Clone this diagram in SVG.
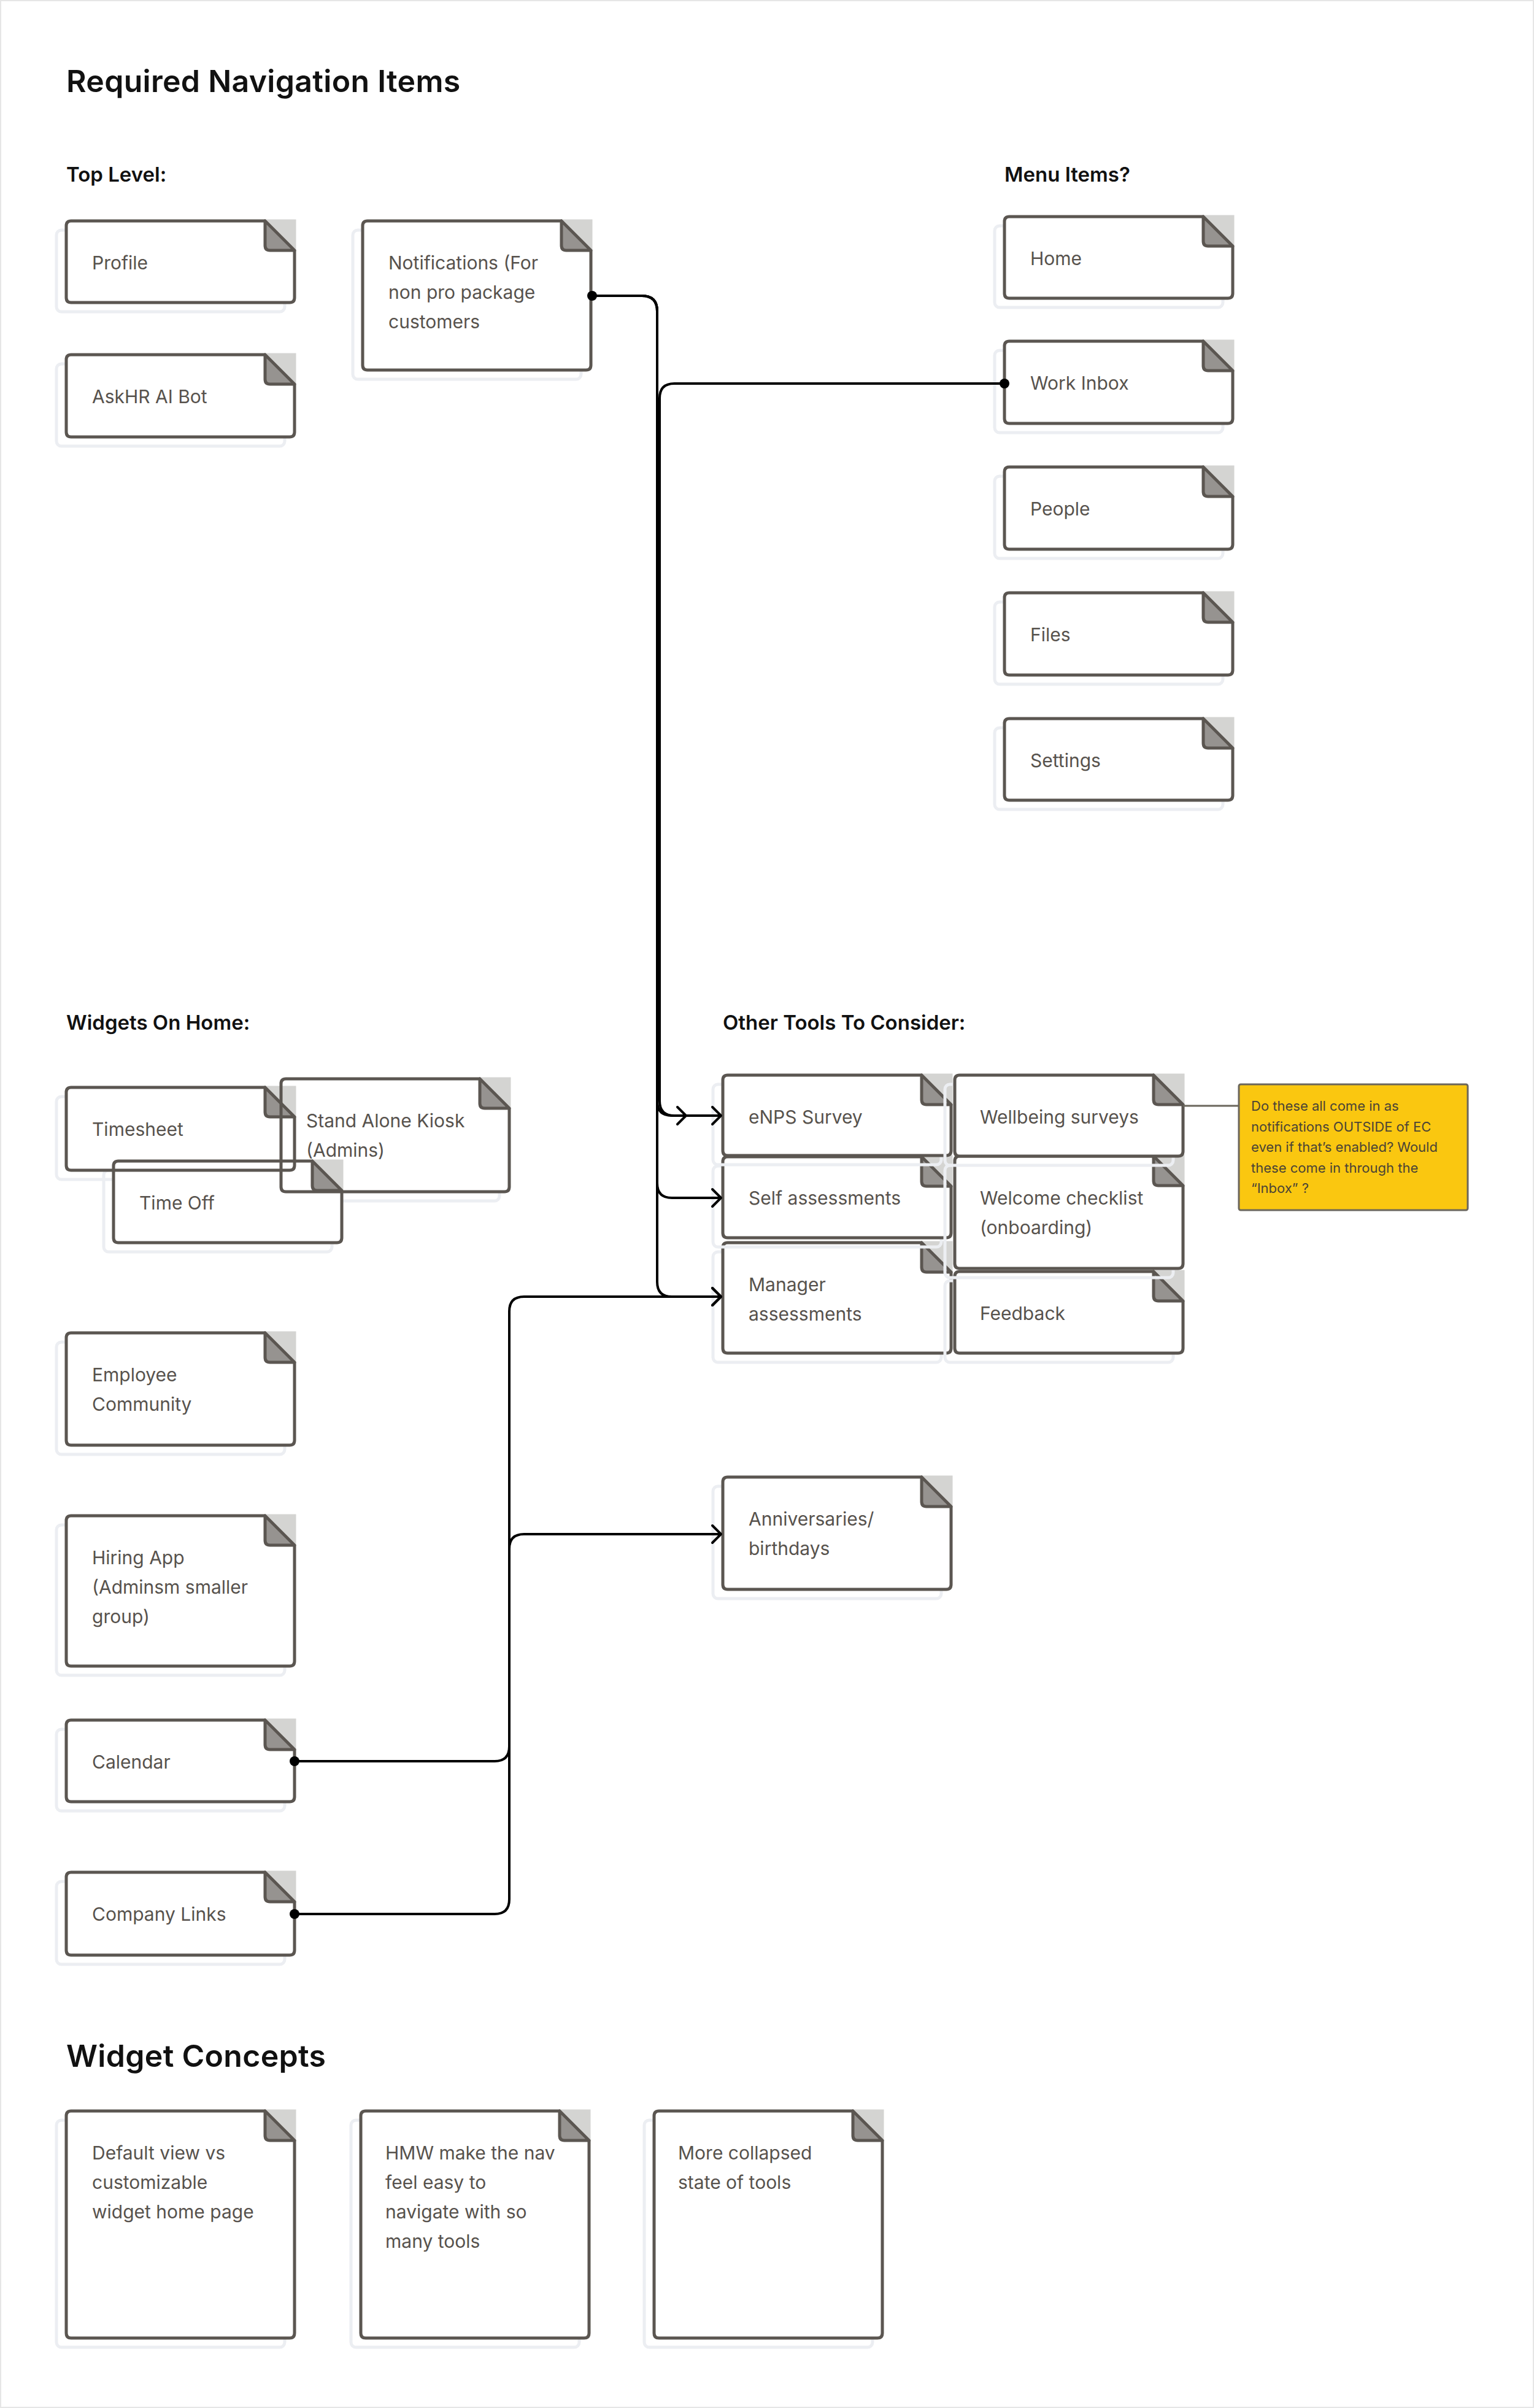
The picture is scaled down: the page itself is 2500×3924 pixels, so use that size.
<svg xmlns="http://www.w3.org/2000/svg" xmlns:xlink="http://www.w3.org/1999/xlink" width="2500" height="3924" viewBox="0 0 2500 3924">
<style>
.h1{font-family:Inter,"Liberation Sans",sans-serif;font-weight:600;font-size:50px;letter-spacing:0.3px;fill:#111111}
.h2{font-family:Inter,"Liberation Sans",sans-serif;font-weight:600;font-size:33px;fill:#111111}
.lbl{font-family:Inter,"Liberation Sans",sans-serif;font-weight:400;font-size:30px;fill:#57524d}
.nt{font-family:Inter,"Liberation Sans",sans-serif;font-weight:400;font-size:22px;fill:#4a4336}
.body{fill:#ffffff;stroke:#5b5651;stroke-width:5;stroke-linejoin:round}
.bodyo{fill:none;stroke:#5b5651;stroke-width:5;stroke-linejoin:round}
.shd{fill:none;stroke:#eceef2;stroke-width:5}
.con{fill:none;stroke:#000000;stroke-width:4;stroke-linejoin:round}
.arr{marker-end:url(#arrow)}
.dot{fill:#000000}
</style>
<defs>
<g id="fold"><rect x="0" y="-2.5" width="50.5" height="50.5" fill="#d4d4d2"/><path d="M0,0 V40 Q0,48 8,48 H48 Z" fill="#969390" stroke="#5b5651" stroke-width="5" stroke-linejoin="round"/></g>
<marker id="arrow" viewBox="-18 -18 22 36" markerWidth="22" markerHeight="36" refX="0" refY="0" orient="auto" markerUnits="userSpaceOnUse"><path d="M-14,-14 L0,0 L-14,14" fill="none" stroke="#000000" stroke-width="4" stroke-linecap="round" stroke-linejoin="round"/></marker>
</defs>
<rect x="0" y="0" width="2500" height="3924" fill="#ffffff"/>
<rect x="1" y="1" width="2498" height="3922" fill="none" stroke="#e6e6e6" stroke-width="2"/>

<g id="headings">
<text class="h1" x="108" y="150">Required Navigation Items</text>
<text class="h2" x="108" y="296">Top Level:</text>
<text class="h2" x="1637" y="296">Menu Items?</text>
<text class="h2" x="108" y="1678">Widgets On Home:</text>
<text class="h2" x="1178" y="1678">Other Tools To Consider:</text>
<text class="h1" x="108" y="3368">Widget Concepts</text>
</g>

<g id="profile">
<rect class="shd" x="92" y="375" width="372" height="133" rx="8"/>
<path class="body" d="M116,360 H432 L480,408 V485 Q480,493 472,493 H116 Q108,493 108,485 V368 Q108,360 116,360 Z"/>
<use href="#fold" x="432" y="360"/>
<text class="lbl" x="150" y="439">Profile</text>
</g>
<g id="askhr-ai-bot">
<rect class="shd" x="92" y="593" width="372" height="134" rx="8"/>
<path class="body" d="M116,578 H432 L480,626 V704 Q480,712 472,712 H116 Q108,712 108,704 V586 Q108,578 116,578 Z"/>
<use href="#fold" x="432" y="578"/>
<text class="lbl" x="150" y="657">AskHR AI Bot</text>
</g>
<g id="notifications">
<rect class="shd" x="575" y="375" width="372" height="243" rx="8"/>
<path class="body" d="M599,360 H915 L963,408 V595 Q963,603 955,603 H599 Q591,603 591,595 V368 Q591,360 599,360 Z"/>
<use href="#fold" x="915" y="360"/>
<text class="lbl" x="633" y="439">Notifications (For</text>
<text class="lbl" x="633" y="487">non pro package</text>
<text class="lbl" x="633" y="535">customers</text>
</g>

<g id="home">
<rect class="shd" x="1621" y="368" width="372" height="133" rx="8"/>
<path class="body" d="M1645,353 H1961 L2009,401 V478 Q2009,486 2001,486 H1645 Q1637,486 1637,478 V361 Q1637,353 1645,353 Z"/>
<use href="#fold" x="1961" y="353"/>
<text class="lbl" x="1679" y="432">Home</text>
</g>
<g id="work-inbox">
<rect class="shd" x="1621" y="571" width="372" height="134" rx="8"/>
<path class="body" d="M1645,556 H1961 L2009,604 V682 Q2009,690 2001,690 H1645 Q1637,690 1637,682 V564 Q1637,556 1645,556 Z"/>
<use href="#fold" x="1961" y="556"/>
<text class="lbl" x="1679" y="635">Work Inbox</text>
</g>
<g id="people">
<rect class="shd" x="1621" y="776" width="372" height="134" rx="8"/>
<path class="body" d="M1645,761 H1961 L2009,809 V887 Q2009,895 2001,895 H1645 Q1637,895 1637,887 V769 Q1637,761 1645,761 Z"/>
<use href="#fold" x="1961" y="761"/>
<text class="lbl" x="1679" y="840">People</text>
</g>
<g id="files">
<rect class="shd" x="1621" y="981" width="372" height="134" rx="8"/>
<path class="body" d="M1645,966 H1961 L2009,1014 V1092 Q2009,1100 2001,1100 H1645 Q1637,1100 1637,1092 V974 Q1637,966 1645,966 Z"/>
<use href="#fold" x="1961" y="966"/>
<text class="lbl" x="1679" y="1045">Files</text>
</g>
<g id="settings">
<rect class="shd" x="1621" y="1186" width="372" height="133" rx="8"/>
<path class="body" d="M1645,1171 H1961 L2009,1219 V1296 Q2009,1304 2001,1304 H1645 Q1637,1304 1637,1296 V1179 Q1637,1171 1645,1171 Z"/>
<use href="#fold" x="1961" y="1171"/>
<text class="lbl" x="1679" y="1250">Settings</text>
</g>

<g id="widget-underlay">
<rect class="shd" x="92" y="1787" width="372" height="135" rx="8"/>
<rect class="shd" x="442" y="1773" width="372" height="184" rx="8"/>
<rect class="shd" x="169" y="1907" width="372" height="133" rx="8"/>
<rect x="108" y="1772" width="372" height="135" rx="8" fill="#ffffff"/>
<rect x="458" y="1758" width="372" height="184" rx="8" fill="#ffffff"/>
<rect x="185" y="1892" width="372" height="133" rx="8" fill="#ffffff"/>
</g>
<g id="timesheet">
<path class="bodyo" d="M116,1772 H432 L480,1820 V1899 Q480,1907 472,1907 H116 Q108,1907 108,1899 V1780 Q108,1772 116,1772 Z"/>
<use href="#fold" x="432" y="1772"/>
<text class="lbl" x="150" y="1851">Timesheet</text>
</g>
<g id="stand-alone-kiosk">
<path class="bodyo" d="M466,1758 H782 L830,1806 V1934 Q830,1942 822,1942 H466 Q458,1942 458,1934 V1766 Q458,1758 466,1758 Z"/>
<use href="#fold" x="782" y="1758"/>
<text class="lbl" x="499" y="1837">Stand Alone Kiosk</text>
<text class="lbl" x="499" y="1885">(Admins)</text>
</g>
<g id="time-off">
<path class="bodyo" d="M193,1892 H509 L557,1940 V2017 Q557,2025 549,2025 H193 Q185,2025 185,2017 V1900 Q185,1892 193,1892 Z"/>
<use href="#fold" x="509" y="1892"/>
<text class="lbl" x="227" y="1971">Time Off</text>
</g>

<g id="employee-community">
<rect class="shd" x="92" y="2187" width="372" height="183" rx="8"/>
<path class="body" d="M116,2172 H432 L480,2220 V2347 Q480,2355 472,2355 H116 Q108,2355 108,2347 V2180 Q108,2172 116,2172 Z"/>
<use href="#fold" x="432" y="2172"/>
<text class="lbl" x="150" y="2251">Employee</text>
<text class="lbl" x="150" y="2299">Community</text>
</g>
<g id="hiring-app">
<rect class="shd" x="92" y="2485" width="372" height="245" rx="8"/>
<path class="body" d="M116,2470 H432 L480,2518 V2707 Q480,2715 472,2715 H116 Q108,2715 108,2707 V2478 Q108,2470 116,2470 Z"/>
<use href="#fold" x="432" y="2470"/>
<text class="lbl" x="150" y="2549">Hiring App</text>
<text class="lbl" x="150" y="2597">(Adminsm smaller</text>
<text class="lbl" x="150" y="2645">group)</text>
</g>
<g id="calendar">
<rect class="shd" x="92" y="2818" width="372" height="133" rx="8"/>
<path class="body" d="M116,2803 H432 L480,2851 V2928 Q480,2936 472,2936 H116 Q108,2936 108,2928 V2811 Q108,2803 116,2803 Z"/>
<use href="#fold" x="432" y="2803"/>
<text class="lbl" x="150" y="2882">Calendar</text>
</g>
<g id="company-links">
<rect class="shd" x="92" y="3066" width="372" height="135" rx="8"/>
<path class="body" d="M116,3051 H432 L480,3099 V3178 Q480,3186 472,3186 H116 Q108,3186 108,3178 V3059 Q108,3051 116,3051 Z"/>
<use href="#fold" x="432" y="3051"/>
<text class="lbl" x="150" y="3130">Company Links</text>
</g>

<g id="manager-assessments">
<rect class="shd" x="1162" y="2040" width="372" height="180" rx="8"/>
<path class="body" d="M1186,2025 H1502 L1550,2073 V2197 Q1550,2205 1542,2205 H1186 Q1178,2205 1178,2197 V2033 Q1178,2025 1186,2025 Z"/>
<use href="#fold" x="1502" y="2025"/>
<text class="lbl" x="1220" y="2104">Manager</text>
<text class="lbl" x="1220" y="2152">assessments</text>
</g>
<g id="self-assessments">
<rect class="shd" x="1162" y="1900" width="372" height="132" rx="8"/>
<path class="body" d="M1186,1885 H1502 L1550,1933 V2009 Q1550,2017 1542,2017 H1186 Q1178,2017 1178,2009 V1893 Q1178,1885 1186,1885 Z"/>
<use href="#fold" x="1502" y="1885"/>
<text class="lbl" x="1220" y="1963">Self assessments</text>
</g>
<g id="enps-survey">
<rect class="shd" x="1162" y="1767" width="372" height="131" rx="8"/>
<path class="body" d="M1186,1752 H1502 L1550,1800 V1875 Q1550,1883 1542,1883 H1186 Q1178,1883 1178,1875 V1760 Q1178,1752 1186,1752 Z"/>
<use href="#fold" x="1502" y="1752"/>
<text class="lbl" x="1220" y="1831">eNPS Survey</text>
</g>
<g id="feedback">
<rect class="shd" x="1540" y="2087" width="372" height="133" rx="8"/>
<path class="body" d="M1564,2072 H1880 L1928,2120 V2197 Q1928,2205 1920,2205 H1564 Q1556,2205 1556,2197 V2080 Q1556,2072 1564,2072 Z"/>
<use href="#fold" x="1880" y="2072"/>
<text class="lbl" x="1597" y="2151">Feedback</text>
</g>
<g id="welcome-checklist">
<rect class="shd" x="1540" y="1899" width="372" height="183" rx="8"/>
<path class="body" d="M1564,1884 H1880 L1928,1932 V2059 Q1928,2067 1920,2067 H1564 Q1556,2067 1556,2059 V1892 Q1556,1884 1564,1884 Z"/>
<use href="#fold" x="1880" y="1884"/>
<text class="lbl" x="1597" y="1963">Welcome checklist</text>
<text class="lbl" x="1597" y="2011">(onboarding)</text>
</g>
<g id="wellbeing-surveys">
<rect class="shd" x="1540" y="1767" width="372" height="132" rx="8"/>
<path class="body" d="M1564,1752 H1880 L1928,1800 V1876 Q1928,1884 1920,1884 H1564 Q1556,1884 1556,1876 V1760 Q1556,1752 1564,1752 Z"/>
<use href="#fold" x="1880" y="1752"/>
<text class="lbl" x="1597" y="1831">Wellbeing surveys</text>
</g>
<g id="anniversaries">
<rect class="shd" x="1162" y="2422" width="372" height="183" rx="8"/>
<path class="body" d="M1186,2407 H1502 L1550,2455 V2582 Q1550,2590 1542,2590 H1186 Q1178,2590 1178,2582 V2415 Q1178,2407 1186,2407 Z"/>
<use href="#fold" x="1502" y="2407"/>
<text class="lbl" x="1220" y="2486">Anniversaries/</text>
<text class="lbl" x="1220" y="2534">birthdays</text>
</g>

<g id="note">
<rect x="2019" y="1767" width="373" height="205" rx="3" fill="#fac710" stroke="#6b665c" stroke-width="3"/>
<text class="nt" x="2039" y="1810">Do these all come in as</text>
<text class="nt" x="2039" y="1844">notifications OUTSIDE of EC</text>
<text class="nt" x="2039" y="1877">even if that’s enabled? Would</text>
<text class="nt" x="2039" y="1911">these come in through the</text>
<text class="nt" x="2039" y="1944">“Inbox” ?</text>
</g>

<g id="default-view">
<rect class="shd" x="92" y="3455" width="372" height="370" rx="8"/>
<path class="body" d="M116,3440 H432 L480,3488 V3802 Q480,3810 472,3810 H116 Q108,3810 108,3802 V3448 Q108,3440 116,3440 Z"/>
<use href="#fold" x="432" y="3440"/>
<text class="lbl" x="150" y="3519">Default view vs</text>
<text class="lbl" x="150" y="3567">customizable</text>
<text class="lbl" x="150" y="3615">widget home page</text>
</g>
<g id="hmw">
<rect class="shd" x="572" y="3455" width="372" height="370" rx="8"/>
<path class="body" d="M596,3440 H912 L960,3488 V3802 Q960,3810 952,3810 H596 Q588,3810 588,3802 V3448 Q588,3440 596,3440 Z"/>
<use href="#fold" x="912" y="3440"/>
<text class="lbl" x="628" y="3519">HMW make the nav</text>
<text class="lbl" x="628" y="3567">feel easy to</text>
<text class="lbl" x="628" y="3615">navigate with so</text>
<text class="lbl" x="628" y="3663">many tools</text>
</g>
<g id="more-collapsed">
<rect class="shd" x="1050" y="3455" width="372" height="370" rx="8"/>
<path class="body" d="M1074,3440 H1390 L1438,3488 V3802 Q1438,3810 1430,3810 H1074 Q1066,3810 1066,3802 V3448 Q1066,3440 1074,3440 Z"/>
<use href="#fold" x="1390" y="3440"/>
<text class="lbl" x="1105" y="3519">More collapsed</text>
<text class="lbl" x="1105" y="3567">state of tools</text>
</g>

<g id="connectors">
<path class="con arr" d="M965,482 H1046 Q1071,482 1071,507 V1794 Q1071,1818 1095,1818 H1118"/>
<path class="con arr" d="M965,482 H1046 Q1071,482 1071,507 V1928 Q1071,1952 1095,1952 H1175"/>
<path class="con arr" d="M965,482 H1046 Q1071,482 1071,507 V2089 Q1071,2113 1095,2113 H1175"/>
<path class="con arr" d="M1637,625 H1099 Q1075,625 1075,649 V1794 Q1075,1818 1099,1818 H1175"/>
<path class="con arr" d="M480,2870 H806 Q830,2870 830,2846 V2137 Q830,2113 854,2113 H1175"/>
<path class="con arr" d="M480,3119 H806 Q830,3119 830,3095 V2524 Q830,2500 854,2500 H1175"/>
<path d="M1928,1802 H2019" fill="none" stroke="#6b665c" stroke-width="3"/>
<circle class="dot" cx="965" cy="482" r="8"/>
<circle class="dot" cx="1637" cy="625" r="8"/>
<circle class="dot" cx="480" cy="2870" r="8"/>
<circle class="dot" cx="480" cy="3119" r="8"/>
</g>
</svg>
